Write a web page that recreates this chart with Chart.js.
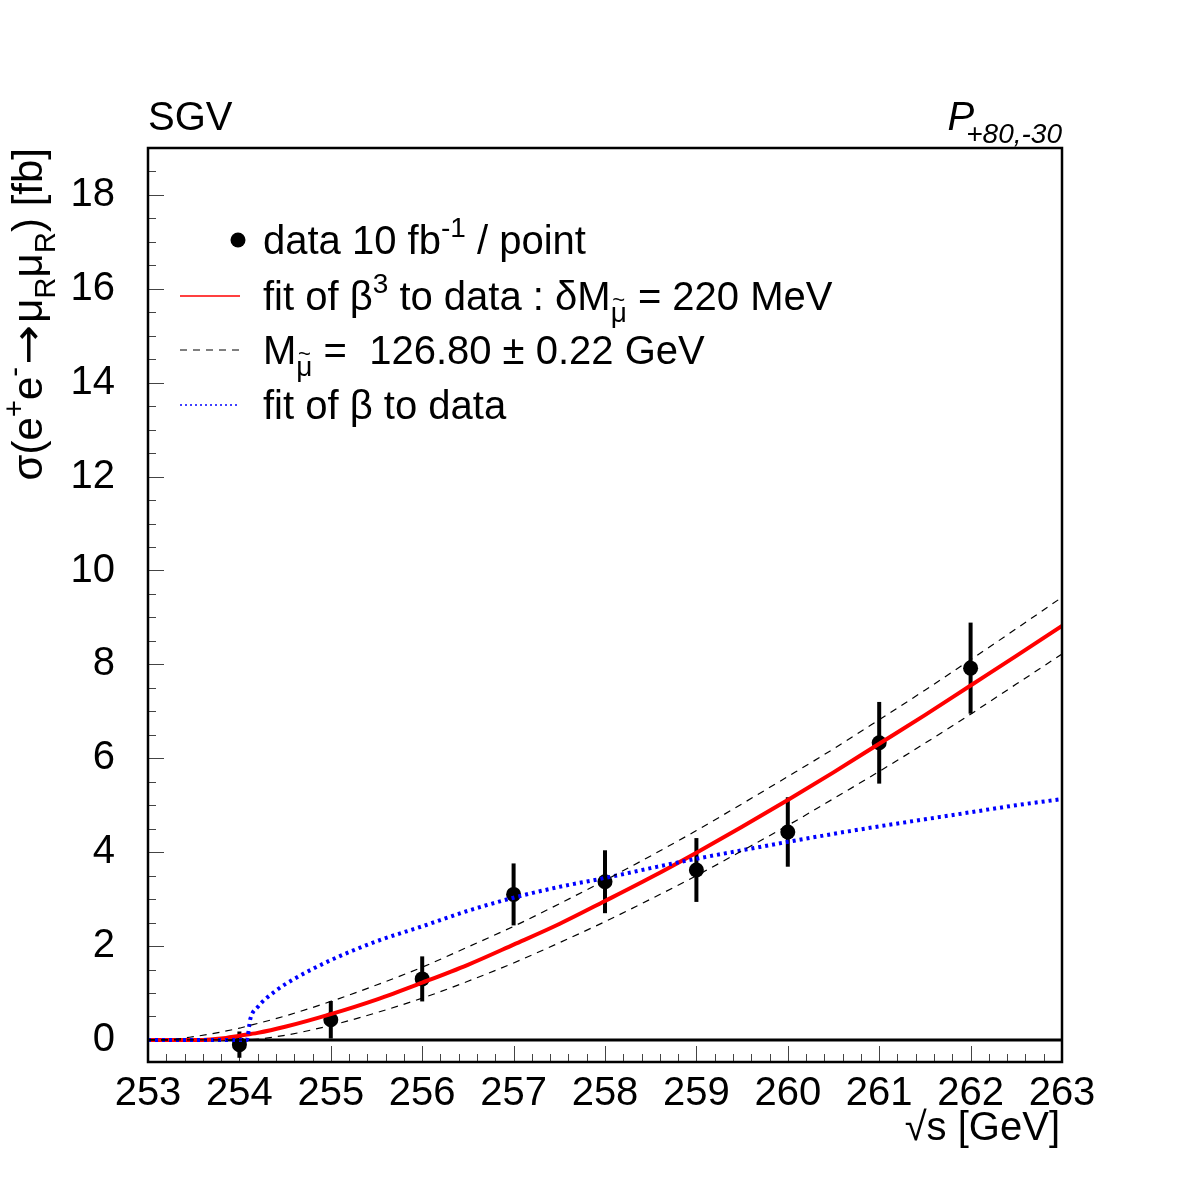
<!DOCTYPE html>
<html>
<head>
<meta charset="utf-8">
<script src="https://cdn.jsdelivr.net/npm/chart.js@4.4.1/dist/chart.umd.min.js"></script>
<style>
  html, body { margin: 0; padding: 0; background: #fff; }
  #c { display: block; }
</style>
</head>
<body>
<canvas id="c" width="1182" height="1182"></canvas>
<script>
const FONT = '"Liberation Sans", Arial, Helvetica, sans-serif';

// measured points (sqrt(s) in GeV, sigma in fb)
const energies = [254, 255, 256, 257, 258, 259, 260, 261, 262];
const sigma    = [-0.10, 0.43, 1.30, 3.10, 3.37, 3.62, 4.43, 6.33, 7.92];
const sigmaErr = [0.28, 0.40, 0.48, 0.66, 0.67, 0.68, 0.74, 0.87, 0.97];

// beta^3 fit (red)
const fitX   = [253, 253.6, 253.8, 254, 254.2, 254.5, 255, 255.5, 256, 256.5, 257, 257.5, 258, 258.5, 259, 259.5, 260, 260.5, 261, 261.5, 262, 262.5, 263];
const fitB3  = [0, 0, 0.03, 0.09, 0.15, 0.28, 0.55, 0.86, 1.22, 1.60, 2.03, 2.47, 2.96, 3.46, 3.99, 4.54, 5.11, 5.70, 6.31, 6.92, 7.55, 8.18, 8.82];

// mass +/- error bands (black dashed)
const bandX    = [253, 253.16, 253.5, 254, 254.04, 254.5, 255, 255.5, 256, 256.5, 257, 257.5, 258, 258.5, 259, 259.5, 260, 260.5, 261, 261.5, 262, 262.5, 263];
const bandHigh = [0, 0, 0.07, 0.25, 0.27, 0.51, 0.82, 1.17, 1.55, 1.98, 2.42, 2.90, 3.40, 3.92, 4.46, 5.03, 5.61, 6.20, 6.82, 7.45, 8.10, 8.76, 9.43];
const bandLow  = [0, 0, 0, 0, 0, 0.10, 0.31, 0.58, 0.89, 1.25, 1.64, 2.07, 2.52, 3.00, 3.50, 4.03, 4.57, 5.14, 5.72, 6.32, 6.94, 7.58, 8.22];

// beta fit (blue)
const betaX   = [253, 254.08, 254.12, 254.2, 254.4, 254.6, 255, 255.5, 256, 256.5, 257, 257.5, 258, 258.5, 259, 259.5, 260, 260.5, 261, 261.5, 262, 262.5, 263];
const fitBeta = [0, 0, 0.45, 0.70, 1.05, 1.30, 1.70, 2.10, 2.42, 2.75, 3.03, 3.26, 3.45, 3.66, 3.86, 4.04, 4.22, 4.39, 4.55, 4.70, 4.85, 5.00, 5.13];

const xTicks = [253, 254, 255, 256, 257, 258, 259, 260, 261, 262, 263];
const yTicks = [0, 2, 4, 6, 8, 10, 12, 14, 16, 18];

const pts = (xs, ys) => xs.map((x, i) => ({ x, y: ys[i] }));

function drawRuns(ctx, runs, x, y, size, align) {
  const items = runs.map(r => {
    const s = (r.sup || r.sub) ? size * 0.7 : size;
    const font = `${r.italic ? 'italic ' : ''}${s}px ${r.font || FONT}`;
    ctx.font = font;
    const tw = ctx.measureText(r.t).width;
    return { r, s, font, tw, w: (r.width || tw) + (r.gap || 0) * 2 };
  });
  const total = items.reduce((a, b) => a + b.w, 0);
  let cx = align === 'right' ? x - total : x;
  ctx.textAlign = 'left';
  ctx.textBaseline = 'alphabetic';
  for (const it of items) {
    const dy = it.r.sup ? -size * 0.42 : it.r.sub ? size * 0.3 : 0;
    ctx.font = it.font;
    if (it.r.width) {
      // stretched glyph (long arrow)
      ctx.save();
      ctx.translate(cx + (it.r.gap || 0), y + dy);
      ctx.scale(it.r.width / it.tw, 1);
      ctx.fillText(it.r.t, 0, 0);
      ctx.restore();
    } else {
      ctx.fillText(it.r.t, cx + (it.r.gap || 0), y + dy);
    }
    if (it.r.tilde) {
      ctx.font = `${size * 0.55}px ${FONT}`;
      ctx.textAlign = 'center';
      ctx.fillText('~', cx + it.w / 2, y + dy - it.s * 0.55);
      ctx.textAlign = 'left';
    }
    cx += it.w;
  }
  return total;
}

const decorPlugin = {
  id: 'decor',
  beforeDatasetsDraw(chart) {
    const { ctx, chartArea: a, scales: { x, y } } = chart;
    ctx.save();
    // minor / major ticks pointing inward
    ctx.strokeStyle = '#444';
    ctx.lineWidth = 1;
    for (let v = 253; v <= 263.001; v += 0.2) {
      const px = Math.round(x.getPixelForValue(v)) + 0.5;
      const major = Math.abs(v - Math.round(v)) < 1e-6;
      ctx.beginPath();
      ctx.moveTo(px, a.bottom);
      ctx.lineTo(px, a.bottom - (major ? 16 : 8));
      ctx.stroke();
    }
    for (let v = 0; v <= 19; v += 0.5) {
      const py = Math.round(y.getPixelForValue(v)) + 0.5;
      const major = v % 2 === 0;
      ctx.beginPath();
      ctx.moveTo(a.left, py);
      ctx.lineTo(a.left + (major ? 16 : 8), py);
      ctx.stroke();
    }
    // zero line
    ctx.strokeStyle = '#000';
    ctx.lineWidth = 3;
    const y0 = y.getPixelForValue(0);
    ctx.beginPath();
    ctx.moveTo(a.left, y0);
    ctx.lineTo(a.right, y0);
    ctx.stroke();
    // error bars
    ctx.lineWidth = 4;
    energies.forEach((e, i) => {
      const px = x.getPixelForValue(e);
      ctx.beginPath();
      ctx.moveTo(px, y.getPixelForValue(sigma[i] - sigmaErr[i]));
      ctx.lineTo(px, y.getPixelForValue(sigma[i] + sigmaErr[i]));
      ctx.stroke();
    });
    ctx.restore();
  },
  afterDraw(chart) {
    const { ctx, chartArea: a } = chart;
    ctx.save();
    // frame
    ctx.strokeStyle = '#000';
    ctx.lineWidth = 2.5;
    ctx.strokeRect(a.left, a.top, a.right - a.left, a.bottom - a.top);

    ctx.fillStyle = '#000';
    ctx.font = `40px ${FONT}`;
    ctx.textBaseline = 'alphabetic';
    ctx.textAlign = 'left';
    ctx.fillText('SGV', 148, 130);

    ctx.textAlign = 'right';
    ctx.font = `italic 28px ${FONT}`;
    const subW = ctx.measureText('+80,-30').width;
    ctx.fillText('+80,-30', 1062, 143);
    ctx.font = `italic 40px ${FONT}`;
    ctx.fillText('P', 1062 - subW + 8, 130);

    // x title
    ctx.font = `40px ${FONT}`;
    ctx.textAlign = 'right';
    ctx.fillText('\u221As [GeV]', 1060, 1140);

    // y title (rotated)
    ctx.save();
    ctx.translate(42, 148);
    ctx.rotate(-Math.PI / 2);
    drawRuns(ctx, [
      { t: '\u03C3(e' }, { t: '+', sup: true }, { t: 'e' }, { t: '-', sup: true },
      { t: '\u2192', font: '"DejaVu Sans", sans-serif', width: 40, gap: 2 }, { t: '\u03BC' }, { t: 'R', sub: true }, { t: '\u03BC' }, { t: 'R', sub: true },
      { t: ') [fb]' }
    ], 0, 0, 42, 'right');
    ctx.restore();

    // legend
    ctx.beginPath();
    ctx.arc(238, 240, 7.5, 0, Math.PI * 2);
    ctx.fill();

    ctx.strokeStyle = '#ff0000';
    ctx.lineWidth = 1.5;
    ctx.beginPath(); ctx.moveTo(180, 296); ctx.lineTo(240, 296); ctx.stroke();

    ctx.strokeStyle = '#000';
    ctx.lineWidth = 1.2;
    ctx.setLineDash([7, 6]);
    ctx.beginPath(); ctx.moveTo(180, 350); ctx.lineTo(240, 350); ctx.stroke();

    ctx.strokeStyle = '#0000ff';
    ctx.lineWidth = 1.5;
    ctx.setLineDash([2, 3]);
    ctx.beginPath(); ctx.moveTo(180, 405); ctx.lineTo(240, 405); ctx.stroke();
    ctx.setLineDash([]);

    const lx = 263;
    drawRuns(ctx, [{ t: 'data 10 fb' }, { t: '-1', sup: true }, { t: ' / point' }], lx, 254, 40);
    drawRuns(ctx, [{ t: 'fit of \u03B2' }, { t: '3', sup: true }, { t: ' to data : \u03B4M' },
      { t: '\u03BC', sub: true, tilde: true }, { t: ' = 220 MeV' }], lx, 310, 40);
    drawRuns(ctx, [{ t: 'M' }, { t: '\u03BC', sub: true, tilde: true }, { t: ' =  126.80 \u00B1 0.22 GeV' }], lx, 364, 40);
    drawRuns(ctx, [{ t: 'fit of \u03B2 to data' }], lx, 419, 40);
    ctx.restore();
  }
};

new Chart(document.getElementById('c'), {
  type: 'scatter',
  data: {
    datasets: [
      { data: pts(bandX, bandHigh), showLine: true, borderColor: '#000', borderWidth: 1.2, borderDash: [7, 6], pointRadius: 0, cubicInterpolationMode: 'monotone' },
      { data: pts(bandX, bandLow), showLine: true, borderColor: '#000', borderWidth: 1.2, borderDash: [7, 6], pointRadius: 0, cubicInterpolationMode: 'monotone' },
      { data: pts(betaX, fitBeta), showLine: true, borderColor: '#0000ff', borderWidth: 4, borderDash: [3, 4], pointRadius: 0, cubicInterpolationMode: 'monotone' },
      { data: pts(fitX, fitB3), showLine: true, borderColor: '#ff0000', borderWidth: 4, pointRadius: 0, cubicInterpolationMode: 'monotone' },
      { data: pts(energies, sigma), showLine: false, pointRadius: 7.5, pointBackgroundColor: '#000', pointBorderWidth: 0 }
    ]
  },
  options: {
    responsive: false,
    animation: false,
    devicePixelRatio: 1,
    layout: { padding: { top: 148, right: 120, left: 0, bottom: 0 } },
    plugins: { legend: { display: false }, tooltip: { enabled: false } },
    scales: {
      x: {
        type: 'linear', min: 253, max: 263,
        afterBuildTicks: s => { s.ticks = xTicks.map(v => ({ value: v })); },
        afterFit: s => { s.height = 120; },
        grid: { display: false, drawTicks: false },
        border: { display: false },
        ticks: { color: '#000', font: { family: FONT, size: 40 }, padding: 8, maxRotation: 0, autoSkip: false }
      },
      y: {
        type: 'linear', min: -0.47, max: 19,
        afterBuildTicks: s => { s.ticks = yTicks.map(v => ({ value: v })); },
        afterFit: s => { s.width = 148; },
        grid: { display: false, drawTicks: false },
        border: { display: false },
        ticks: { color: '#000', font: { family: FONT, size: 40 }, padding: 33 }
      }
    }
  },
  plugins: [decorPlugin]
});
</script>
</body>
</html>
